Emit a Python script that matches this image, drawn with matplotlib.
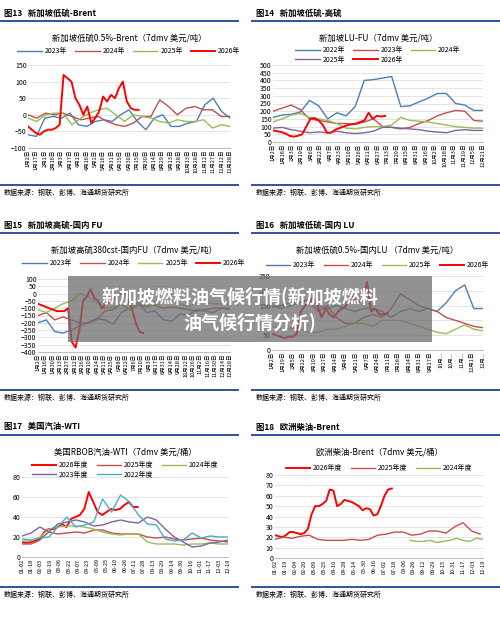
import numpy as np
import matplotlib
matplotlib.use("Agg")
import matplotlib.pyplot as plt
from matplotlib.lines import Line2D

plt.rcParams['font.family'] = ['Noto Sans CJK SC', 'DejaVu Sans']

W, H = 500, 618
fig = plt.figure(figsize=(5, 6.18), dpi=100)
fig.patch.set_facecolor('white')

BLUE = '#4A7EBB'; DRED = '#C0504D'; GREEN = '#9BBB59'; PURP = '#8064A2'; RED = '#FF0000'; CYAN = '#4BACC6'
HDR = '#2F5597'

# ---------- data ----------
p13_labels = ["1月2日","1月17日","2月1日","2月16日","3月3日","3月17日","4月1日","4月16日","5月1日","5月16日","5月31日","6月15日","6月30日","7月15日","7月30日","8月14日","8月29日","9月13日","9月28日","10月13日","10月28日","11月12日","11月27日","12月12日","12月28日"]
p13_2023 = [-60,-65,-10,-5,-10,5,-30,-35,-20,-15,-20,0,15,-20,-45,-10,0,-35,-35,-25,-20,30,50,10,-10]
p13_2024 = [0,-10,5,0,5,-5,-15,-10,-5,-20,-30,-35,-25,-5,-5,45,25,0,20,25,15,15,-5,-5]
p13_2025 = [-10,-20,0,5,5,-30,-10,5,15,20,0,-20,0,-5,-10,-20,-25,-15,-20,-20,-15,-40,-30,-35]
p13_2026 = [-35,-45,-55,-60,-50,-45,-45,-40,-30,120,110,100,50,30,0,25,-25,-10,10,55,40,60,50,80,100,40,20,15,15]

p14_labels = ["1月2日","1月18日","2月3日","2月19日","3月6日","3月22日","4月7日","4月23日","5月10日","5月26日","6月11日","6月27日","7月13日","7月29日","8月15日","8月31日","9月16日","10月2日","10月18日","11月3日","11月19日","12月5日","12月21日"]
p14_2022 = [160,175,180,195,270,235,150,190,170,230,400,405,415,425,230,235,260,285,315,315,250,240,205,205]
p14_2023 = [200,220,240,210,150,140,130,120,120,115,130,150,100,95,85,95,120,140,170,190,205,200,140,135]
p14_2024 = [130,150,175,185,160,150,140,120,90,85,95,100,100,110,160,140,135,130,120,110,100,95,90,90]
p14_2025 = [90,95,80,70,60,65,60,70,60,55,60,70,95,95,90,85,80,70,65,60,75,80,75,75]
p14_2026 = [75,70,65,55,40,35,40,50,100,150,155,140,110,60,60,80,90,100,110,115,120,130,140,190,150,170,165,170]

p15_labels = ["1月2日","1月16日","1月30日","2月13日","2月27日","3月12日","3月26日","4月10日","4月24日","5月11日","5月25日","6月8日","6月22日","7月6日","7月20日","8月3日","8月17日","8月31日","9月14日","9月28日","10月12日","10月26日","11月2日","11月16日","11月30日","12月14日","12月28日"]
p15_2023 = [-200,-180,-260,-270,-250,-220,-200,-170,-180,-210,-130,-100,-60,-130,-120,-180,-190,-140,-150,-110,-120,-130,-100,-110]
p15_2024 = [-150,-130,-180,-160,-180,-200,-200,-180,-120,-110,-70,-110,-80,-90,-80,-100,-90,-100,-110,-120,-110,-100,-100,-100]
p15_2025 = [-110,-130,-100,-70,-50,0,-20,-60,-100,-90,-80,-110,-70,-80,-80,-60,-50,-70,-90,-60,-60,-70,-70,-70]
p15_2026 = [-70,-80,-90,-100,-110,-120,-120,-120,-100,-330,-370,-250,-50,-20,30,-30,-50,-100,-70,-60,-40,-20,0,20,-50,-100,-200,-260,-270]

p16_labels = ["1月2日","1月19日","2月5日","2月22日","3月10日","3月27日","4月14日","5月4日","5月21日","6月7日","6月24日","7月11日","7月28日","8月14日","8月31日","9月17日","10月...","10月...","11月...","12月1日","12月..."]
p16_2023 = [150,140,150,160,170,150,140,150,140,130,140,140,130,110,130,140,130,140,130,160,200,220,140,140]
p16_2024 = [145,150,160,160,170,130,150,110,90,90,110,120,110,140,190,170,150,140,130,110,100,90,80,75]
p16_2025 = [80,70,75,70,60,60,70,70,80,90,90,80,100,100,100,90,80,70,60,55,70,85,70,65]
p16_2026 = [55,50,45,40,45,45,55,130,150,160,180,150,110,140,120,110,130,140,150,190,170,160,170,230,130,140,120,120,125]

p17_labels = ["01-02","01-18","02-03","02-19","03-06","03-22","04-07","04-23","05-09","05-25","06-10","06-26","07-12","07-28","08-13","08-29","09-14","09-30","10-16","11-01","11-17","12-03","12-19"]
p17_2026 = [15,14,15,16,18,25,28,28,30,33,30,38,40,42,48,65,55,45,42,45,48,47,48,52,55,50,50]
p17_2025 = [13,13,17,25,23,24,25,24,27,27,24,23,23,23,20,19,20,18,17,18,19,17,16,15]
p17_2024 = [16,16,20,28,30,31,31,30,28,25,23,22,23,23,15,13,13,13,12,13,13,14,13,13]
p17_2023 = [21,24,30,25,33,35,37,35,31,32,35,37,35,34,40,37,28,20,15,10,11,14,15,17]
p17_2022 = [18,17,19,20,30,40,30,32,35,58,45,62,55,42,33,32,18,16,17,24,19,21,20,20]

p18_labels = ["01-02","01-19","02-04","02-20","03-09","03-25","04-10","04-28","05-14","05-30","06-16","07-02","07-18","08-06","08-26","09-12","09-29","10-15","10-31","11-17","12-03","12-19"]
p18_2026 = [22,21,20,22,25,25,24,23,24,28,42,50,50,52,55,66,65,50,52,56,55,54,52,50,46,48,47,41,42,50,60,66,67]
p18_2025 = [18,20,19,21,22,18,17,17,17,18,17,18,22,23,25,25,22,23,26,26,24,30,34,26,23]
p18_2024 = [17,16,16,17,15,16,17,19,17,16,19,18]


def px(x, y):
    return x / W, 1 - y / H


def ax_at(x0, x1, ytop, ybot):
    l, t = px(x0, ytop)
    r, b = px(x1, ybot)
    return fig.add_axes([l, b, r - l, t - b])


def panel(x0, x1, yhdr, header, title, ax_box, ylim, yticks, labels, series, ncol, src_y, leg_y):
    fig.text(*px(x0 + 4, yhdr), header, fontsize=6, fontweight='bold', va='center', ha='left')
    fig.add_artist(Line2D([x0 / W, x1 / W], [1 - (yhdr + 8) / H] * 2, color=HDR, lw=1.4))
    fig.add_artist(Line2D([x0 / W, x1 / W], [1 - src_y / H] * 2, color=HDR, lw=1.4))
    fig.text(*px(x0 + 4, src_y + 8), "数据来源：钢联、彭博、海通期货研究所", fontsize=5, va='center', ha='left')
    fig.text(*px((ax_box[0] + ax_box[1]) / 2, yhdr + 25), title, fontsize=6, va='center', ha='center')
    ax = ax_at(*ax_box)
    span = 365
    handles = []
    for vals, col, lw, name, xr in series:
        n = len(vals)
        x = np.linspace(0, span, n) if xr is None else np.linspace(xr[0], xr[1], n)
        h, = ax.plot(x, vals, color=col, lw=lw, label=name)
        handles.append(h)
    ax.set_xlim(0, span)
    ax.set_ylim(*ylim)
    ax.set_yticks(yticks)
    ax.set_xticks(np.linspace(0, span, len(labels)))
    ax.set_xticklabels(labels, rotation=90, fontsize=4)
    ax.tick_params(axis='y', labelsize=5, length=0, pad=1)
    ax.tick_params(axis='x', length=0, pad=1)
    for s in ['top', 'right', 'left']:
        ax.spines[s].set_visible(False)
    ax.spines['bottom'].set_color('#bfbfbf')
    ax.grid(axis='y', color='#d9d9d9', lw=0.5)
    ax.set_axisbelow(True)
    # row-major legend order
    nrows = int(np.ceil(len(handles) / ncol))
    order = []
    for c in range(ncol):
        for r in range(nrows):
            i = r * ncol + c
            if i < len(handles):
                order.append(handles[i])
    lx, ly = px((ax_box[0] + ax_box[1]) / 2, leg_y)
    ax.legend(handles=order, loc='center', bbox_to_anchor=(lx, ly), bbox_transform=fig.transFigure, ncol=ncol,
              fontsize=5, frameon=False, handlelength=3.5, columnspacing=1.2, handletextpad=0.4,
              labelspacing=0.2, borderpad=0)
    return ax

panel(0, 238, 13, "图13   新加坡低硫-Brent", "新加坡低硫0.5%-Brent（7dmv 美元/吨）",
      (28, 230, 65, 148), (-100, 150), [-100, -50, 0, 50, 100, 150], p13_labels,
      [(p13_2023, BLUE, 1.0, "2023年", None), (p13_2024, DRED, 1.0, "2024年", None),
       (p13_2025, GREEN, 1.0, "2025年", None), (p13_2026, RED, 1.4, "2026年", (0, 200))],
      4, 185, 51)

panel(252, 500, 13, "图14   新加坡低硫-高硫", "新加坡LU-FU（7dmv 美元/吨）",
      (273, 483, 65, 142), (0, 500), list(range(0, 501, 50)), p14_labels,
      [(p14_2022, BLUE, 1.0, "2022年", None), (p14_2023, DRED, 1.0, "2023年", None),
       (p14_2024, GREEN, 1.0, "2024年", None), (p14_2025, PURP, 1.0, "2025年", None),
       (p14_2026, RED, 1.4, "2026年", (0, 195))],
      3, 185, 55)

panel(0, 238, 225, "图15   新加坡高硫-国内 FU", "新加坡高硫380cst-国内FU（7dmv 美元/吨）",
      (38, 230, 279, 352), (-400, 100), list(range(-400, 101, 50)), p15_labels,
      [(p15_2023, BLUE, 1.0, "2023年", None), (p15_2024, DRED, 1.0, "2024年", None),
       (p15_2025, GREEN, 1.0, "2025年", None), (p15_2026, RED, 1.4, "2026年", (0, 200))],
      4, 390, 263)

panel(252, 500, 225, "图16   新加坡低硫-国内 LU", "新加坡低硫0.5%-国内LU （7dmv 美元/吨）",
      (272, 483, 276, 350), (0, 250), [0, 50, 100, 150, 200, 250], p16_labels,
      [(p16_2023, BLUE, 1.0, "2023年", None), (p16_2024, DRED, 1.0, "2024年", None),
       (p16_2025, GREEN, 1.0, "2025年", None), (p16_2026, RED, 1.4, "2026年", (0, 200))],
      4, 390, 265)

panel(0, 238, 427, "图17   美国汽油-WTI", "美国RBOB汽油-WTI（7dmv 美元/桶）",
      (22, 228, 477, 557), (0, 80), [0, 20, 40, 60, 80], p17_labels,
      [(p17_2026, RED, 1.4, "2026年度", (0, 205)), (p17_2025, DRED, 1.0, "2025年度", None),
       (p17_2024, GREEN, 1.0, "2024年度", None), (p17_2023, PURP, 1.0, "2023年度", None),
       (p17_2022, CYAN, 1.0, "2022年度", None)],
      3, 587, 470)

panel(252, 500, 427, "图18   欧洲柴油-Brent", "欧洲柴油-Brent（7dmv 美元/桶）",
      (275, 483, 475, 558), (0, 80), list(range(0, 81, 10)), p18_labels,
      [(p18_2026, RED, 1.4, "2026年度", (0, 205)), (p18_2025, DRED, 1.0, "2025年度", (0, 360)),
       (p18_2024, GREEN, 1.0, "2024年度", (237, 365))],
      3, 587, 468)

l, t = px(68, 276)
r, b = px(432, 342)
fig.add_artist(plt.Rectangle((l, b), r - l, t - b, transform=fig.transFigure,
                             facecolor='#6e6e6e', alpha=0.75, edgecolor='none', zorder=10))
fig.text(*px(240, 296), "新加坡燃料油气候行情(新加坡燃料", fontsize=13, fontweight='bold',
         color='white', ha='center', va='center', zorder=11)
fig.text(*px(250, 322), "油气候行情分析)", fontsize=13, fontweight='bold',
         color='white', ha='center', va='center', zorder=11)

fig.savefig("out.png", dpi=100)
